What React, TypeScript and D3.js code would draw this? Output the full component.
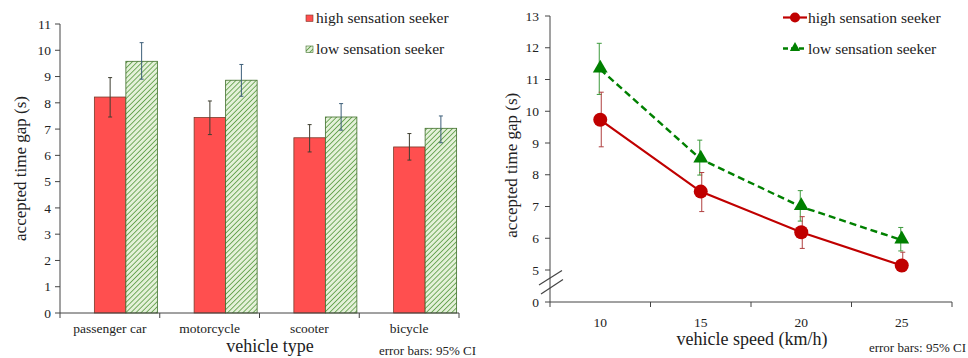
import * as d3 from "d3"

// left chart: accepted gap by vehicle type
const vehicleTypes = ["passenger car", "motorcycle", "scooter", "bicycle"]
const highByType = [8.22, 7.44, 6.67, 6.32]
const highByTypeLo = [7.46, 6.79, 6.13, 5.82]
const highByTypeHi = [8.96, 8.07, 7.17, 6.83]
const lowByType = [9.58, 8.86, 7.46, 7.03]
const lowByTypeLo = [8.9, 8.25, 6.96, 6.48]
const lowByTypeHi = [10.29, 9.46, 7.97, 7.5]
const leftTicks = [0, 1, 2, 3, 4, 5, 6, 7, 8, 9, 10, 11]

// right chart: accepted gap by speed
const speeds = ["10", "15", "20", "25"]
const highBySpeed = [9.73, 7.47, 6.19, 5.14]
const highBySpeedLo = [8.88, 6.84, 5.68, 4.76]
const highBySpeedHi = [10.6, 8.07, 6.68, 5.56]
const lowBySpeed = [11.32, 8.49, 6.99, 5.94]
const lowBySpeedLo = [10.53, 7.99, 6.54, 5.6]
const lowBySpeedHi = [12.14, 9.09, 7.5, 6.34]
const rightTicks = [0, 5, 6, 7, 8, 9, 10, 11, 12, 13]

const FONT = "'Liberation Serif', 'Times New Roman', serif"
const RED_BAR = "#ff4f4f"
const RED_LINE = "#c00000"
const GREEN_LINE = "#008000"

export default function App() {
    // ---- left scales
    const xL = d3.scaleBand().domain(vehicleTypes).range([60, 459])
    const yL = d3.scaleLinear().domain([0, 11]).range([313, 24])
    const barW = 31.5
    const shift = 16

    // ---- right scales (broken axis between 0 and 5)
    const xR = d3.scaleBand().domain(speeds).range([550, 952])
    const yR = d3.scaleLinear().domain([0, 5, 13]).range([302, 270, 16])

    const lineSpeed = d3.line<number>()
        .x((d, i) => xR(speeds[i])! + xR.bandwidth() / 2)
        .y(d => yR(d))
    const tri = d3.symbol().type(d3.symbolTriangle).size(95)()

    const ticksLeft = d3.range(vehicleTypes.length + 1).map(i => 60 + i * xL.step())
    const ticksRight = d3.range(speeds.length + 1).map(i => 550 + i * xR.step())

    return (
        <svg width={968} height={358} style={{ position: "absolute", left: 0, top: 0, background: "#fff" }}
            fontFamily={FONT}>
            <defs>
                <pattern id="hatch" width="3.6" height="3.6" patternUnits="userSpaceOnUse"
                    patternTransform="rotate(45)">
                    <rect width="3.6" height="3.6" fill="#e4f1d9" />
                    <line x1="0" y1="0" x2="0" y2="3.6" stroke="#5f9e48" strokeWidth="1.7" />
                </pattern>
            </defs>

            {/* ===== left chart ===== */}
            <g>
                {leftTicks.map(t => (
                    <g key={t}>
                        <line x1={55} x2={60} y1={yL(t)} y2={yL(t)} stroke="#444" />
                        <text x={51} y={yL(t)} dy="0.35em" textAnchor="end" fontSize={13.5} fill="#222">{t}</text>
                    </g>
                ))}
                {vehicleTypes.map((c, i) => {
                    const x0 = xL(c)! + xL.bandwidth() / 2 + shift - barW
                    const x1 = x0 + barW
                    const cx0 = x0 + barW / 2
                    const cx1 = x1 + barW / 2
                    return (
                        <g key={c}>
                            <rect x={x0} y={yL(highByType[i])} width={barW} height={yL(0) - yL(highByType[i])}
                                fill={RED_BAR} stroke="#7a3a2a" strokeWidth={0.8} />
                            <rect x={x1} y={yL(lowByType[i])} width={barW} height={yL(0) - yL(lowByType[i])}
                                fill="url(#hatch)" stroke="#3f6e2a" strokeWidth={0.8} />
                            <line x1={cx0} x2={cx0} y1={yL(highByTypeHi[i])} y2={yL(highByTypeLo[i])} stroke="#3e3e30" />
                            <line x1={cx0 - 2} x2={cx0 + 2} y1={yL(highByTypeHi[i])} y2={yL(highByTypeHi[i])} stroke="#3e3e30" />
                            <line x1={cx0 - 2} x2={cx0 + 2} y1={yL(highByTypeLo[i])} y2={yL(highByTypeLo[i])} stroke="#3e3e30" />
                            <line x1={cx1} x2={cx1} y1={yL(lowByTypeHi[i])} y2={yL(lowByTypeLo[i])} stroke="#3d5f7a" />
                            <line x1={cx1 - 2} x2={cx1 + 2} y1={yL(lowByTypeHi[i])} y2={yL(lowByTypeHi[i])} stroke="#3d5f7a" />
                            <line x1={cx1 - 2} x2={cx1 + 2} y1={yL(lowByTypeLo[i])} y2={yL(lowByTypeLo[i])} stroke="#3d5f7a" />
                            <text x={xL(c)! + xL.bandwidth() / 2} y={333} textAnchor="middle" fontSize={13.5} fill="#222">{c}</text>
                        </g>
                    )
                })}
                <line x1={60} x2={60} y1={yL(11)} y2={yL(0)} stroke="#444" />
                <line x1={60} x2={459} y1={yL(0)} y2={yL(0)} stroke="#444" />
                {ticksLeft.map(t => <line key={t} x1={t} x2={t} y1={yL(0)} y2={yL(0) + 5} stroke="#444" />)}
                <text transform={`translate(26,${yL(5.5)}) rotate(-90)`} textAnchor="middle" fontSize={17} fill="#222">
                    accepted time gap (s)
                </text>
                <text x={270} y={352} textAnchor="middle" fontSize={18} fill="#222">vehicle type</text>
                <text x={476} y={355} textAnchor="end" fontSize={13} fill="#222">error bars: 95% CI</text>
                {/* legend */}
                <rect x={306} y={15} width={7} height={6.5} fill={RED_BAR} stroke="#7a3a2a" strokeWidth={0.6} />
                <text x={316} y={22.5} fontSize={15.5} fill="#222">high sensation seeker</text>
                <rect x={306} y={46} width={7} height={6.5} fill="url(#hatch)" stroke="#3f6e2a" strokeWidth={0.6} />
                <text x={316} y={53.5} fontSize={15.5} fill="#222">low sensation seeker</text>
            </g>

            {/* ===== right chart ===== */}
            <g>
                {rightTicks.map(t => (
                    <g key={t}>
                        <line x1={545} x2={550} y1={yR(t)} y2={yR(t)} stroke="#444" />
                        <text x={539} y={yR(t)} dy="0.35em" textAnchor="end" fontSize={13.5} fill="#222">{t}</text>
                    </g>
                ))}
                <line x1={550} x2={550} y1={yR(13)} y2={yR(0)} stroke="#444" />
                <line x1={550} x2={952} y1={yR(0)} y2={yR(0)} stroke="#444" />
                {ticksRight.map(t => <line key={t} x1={t} x2={t} y1={yR(0)} y2={yR(0) + 5} stroke="#444" />)}
                {speeds.map(s => (
                    <text key={s} x={xR(s)! + xR.bandwidth() / 2} y={327} textAnchor="middle" fontSize={13.5} fill="#222">{s}</text>
                ))}
                {/* axis break */}
                <line x1={539} y1={285} x2={562} y2={270.5} stroke="#444" strokeWidth={1.2} />
                <line x1={541} y1={294} x2={563} y2={279.5} stroke="#444" strokeWidth={1.2} />

                {/* error bars */}
                {speeds.map((s, i) => {
                    const cx = xR(s)! + xR.bandwidth() / 2
                    return (
                        <g key={s}>
                            <line x1={cx - 1} x2={cx - 1} y1={yR(lowBySpeedHi[i])} y2={yR(lowBySpeedLo[i])} stroke="#3c9a3c" />
                            <line x1={cx - 3.5} x2={cx + 1.5} y1={yR(lowBySpeedHi[i])} y2={yR(lowBySpeedHi[i])} stroke="#3c9a3c" />
                            <line x1={cx - 3.5} x2={cx + 1.5} y1={yR(lowBySpeedLo[i])} y2={yR(lowBySpeedLo[i])} stroke="#3c9a3c" />
                            <line x1={cx + 1} x2={cx + 1} y1={yR(highBySpeedHi[i])} y2={yR(highBySpeedLo[i])} stroke="#b04040" />
                            <line x1={cx - 1.5} x2={cx + 3.5} y1={yR(highBySpeedHi[i])} y2={yR(highBySpeedHi[i])} stroke="#b04040" />
                            <line x1={cx - 1.5} x2={cx + 3.5} y1={yR(highBySpeedLo[i])} y2={yR(highBySpeedLo[i])} stroke="#b04040" />
                        </g>
                    )
                })}
                <path d={lineSpeed(lowBySpeed)!} fill="none" stroke={GREEN_LINE} strokeWidth={2.4} strokeDasharray="7,4" />
                <path d={lineSpeed(highBySpeed)!} fill="none" stroke={RED_LINE} strokeWidth={2.2} />
                {speeds.map((s, i) => {
                    const cx = xR(s)! + xR.bandwidth() / 2
                    return (
                        <g key={s}>
                            <path d={tri!} transform={`translate(${cx},${yR(lowBySpeed[i]) - 1})`} fill={GREEN_LINE} />
                            <circle cx={cx} cy={yR(highBySpeed[i])} r={7} fill={RED_LINE} />
                        </g>
                    )
                })}
                <text transform={`translate(517,${yR(8.3)}) rotate(-90)`} textAnchor="middle" fontSize={17} fill="#222">
                    accepted time gap (s)
                </text>
                <text x={752} y={345} textAnchor="middle" fontSize={18} fill="#222">vehicle speed (km/h)</text>
                <text x={966} y={352} textAnchor="end" fontSize={13} fill="#222">error bars: 95% CI</text>
                {/* legend */}
                <line x1={783} x2={807} y1={17.5} y2={17.5} stroke={RED_LINE} strokeWidth={2.2} />
                <circle cx={795} cy={17.5} r={5} fill={RED_LINE} />
                <text x={808} y={23} fontSize={15.5} fill="#222">high sensation seeker</text>
                <line x1={783} x2={807} y1={48.5} y2={48.5} stroke={GREEN_LINE} strokeWidth={2.4} strokeDasharray="5,3" />
                <path d={d3.symbol().type(d3.symbolTriangle).size(45)()!} transform="translate(795,48)" fill={GREEN_LINE} />
                <text x={808} y={53.5} fontSize={15.5} fill="#222">low sensation seeker</text>
            </g>
        </svg>
    )
}
